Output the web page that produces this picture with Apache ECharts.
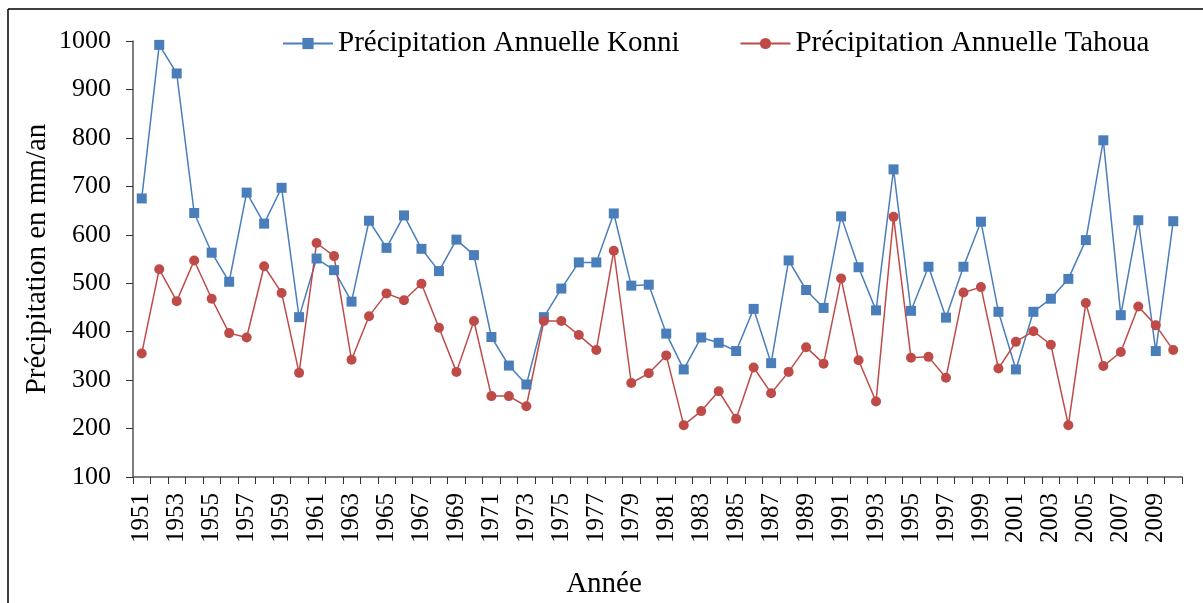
<!DOCTYPE html>
<html>
<head>
<meta charset="utf-8">
<script src="https://cdn.jsdelivr.net/npm/echarts@6/dist/echarts.min.js"></script>
<style>
html,body{margin:0;padding:0;background:#fff;}
#chart{width:1203px;height:603px;}
</style>
</head>
<body>
<div id="chart"></div>
<script>
const years = ['1951','1952','1953','1954','1955','1956','1957','1958','1959','1960',
'1961','1962','1963','1964','1965','1966','1967','1968','1969','1970',
'1971','1972','1973','1974','1975','1976','1977','1978','1979','1980',
'1981','1982','1983','1984','1985','1986','1987','1988','1989','1990',
'1991','1992','1993','1994','1995','1996','1997','1998','1999','2000',
'2001','2002','2003','2004','2005','2006','2007','2008','2009','2010'];

const konni = [675,992,933,645,563,503,687,623,697,430,
551,527,462,629,573,640,571,525,590,558,
389,330,291,430,489,543,543,644,495,497,
396,322,388,377,360,447,335,547,486,449,
638,533,444,735,443,534,429,534,627,441,
322,441,468,509,589,795,434,630,360,628];

const tahoua = [355,529,463,547,468,397,388,535,480,315,
583,556,342,432,479,465,499,408,317,422,
267,267,246,422,422,393,362,567,294,314,
351,207,236,277,220,326,273,317,368,334,
510,341,256,637,346,348,305,481,492,324,
379,401,373,207,459,329,358,452,413,362];

const seriesNames = ['Précipitation Annuelle Konni','Précipitation Annuelle Tahoua'];
const yAxisTitle = 'Précipitation en mm/an';
const xAxisTitle = 'Année';

const FONT = "'Liberation Serif', 'Times New Roman', serif";
const chart = echarts.init(document.getElementById('chart'), null, {renderer:'canvas'});

chart.setOption({
  animation:false,
  backgroundColor:'#fff',
  textStyle:{fontFamily:FONT,color:'#000'},
  grid:{left:133,right:21,top:41,bottom:126,containLabel:false},
  legend:{
    left:277, top:24,
    itemWidth:50, itemHeight:14, itemGap:60,
    textStyle:{fontFamily:FONT,fontSize:29,color:'#000'},
    data:seriesNames
  },
  xAxis:{
    type:'category',
    data:years,
    boundaryGap:true,
    axisLine:{show:true,lineStyle:{color:'#555',width:1.5}},
    axisTick:{show:true,interval:0,length:7,lineStyle:{color:'#333'}},
    axisLabel:{interval:1,rotate:90,margin:16,fontFamily:FONT,fontSize:25,color:'#000'},
    splitLine:{show:false}
  },
  yAxis:{
    type:'value',
    min:100,max:1000,interval:100,
    axisLine:{show:true,lineStyle:{color:'#555',width:1.5}},
    axisTick:{show:true,length:7,lineStyle:{color:'#333'}},
    axisLabel:{margin:22,fontFamily:FONT,fontSize:26,color:'#000',formatter:function(v){return String(v);}},
    splitLine:{show:false}
  },
  series:[
    {
      name:seriesNames[0], type:'line', data:konni,
      symbol:'rect', symbolSize:10,
      color:'#4A7EBB',
      lineStyle:{width:1.5,color:'#4A7EBB'},
      itemStyle:{color:'#4A7EBB'}
    },
    {
      name:seriesNames[1], type:'line', data:tahoua,
      symbol:'circle', symbolSize:10,
      color:'#BE4B48',
      lineStyle:{width:1.5,color:'#BE4B48'},
      itemStyle:{color:'#BE4B48'}
    }
  ],
  graphic:[
    {type:'line',shape:{x1:8,y1:9,x2:1203,y2:9},style:{stroke:'#000',lineWidth:1.5}},
    {type:'line',shape:{x1:8,y1:9,x2:8,y2:603},style:{stroke:'#000',lineWidth:1.5}},
    {type:'text',x:37,y:259,rotation:Math.PI/2,
     style:{text:yAxisTitle,font:'29px '+FONT,fill:'#000',textAlign:'center',textVerticalAlign:'middle'}},
    {type:'text',x:604,y:584,
     style:{text:xAxisTitle,font:'29px '+FONT,fill:'#000',textAlign:'center',textVerticalAlign:'middle'}}
  ]
});
</script>
</body>
</html>
